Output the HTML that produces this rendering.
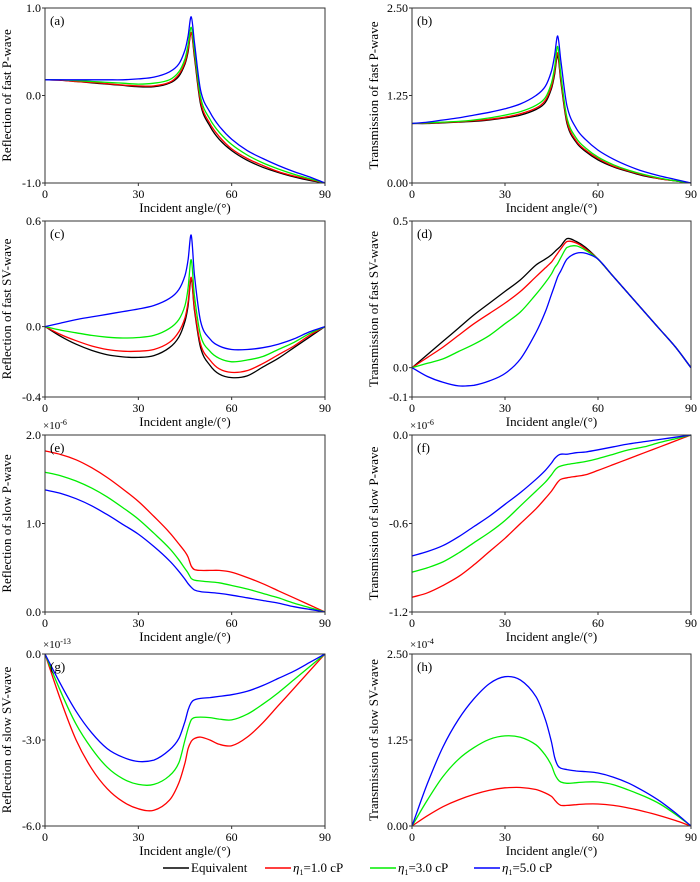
<!DOCTYPE html>
<html><head><meta charset="utf-8"><style>
body{margin:0;background:#fff;width:700px;height:882px;overflow:hidden}
svg{display:block;font-family:"Liberation Serif",serif}
</style></head><body>
<svg id="c" width="700" height="882"></svg>
<script>
const angles=[0,5,10,15,20,25,30,35,40,43,45,46,47,48,50,53,56,60,65,70,75,80,85,90];
const aBlack=[0.18,0.175,0.16,0.145,0.13,0.115,0.10,0.10,0.14,0.22,0.36,0.50,0.72,0.45,-0.10,-0.35,-0.50,-0.63,-0.74,-0.82,-0.88,-0.93,-0.97,-1.0];
const aRed=[0.18,0.175,0.16,0.15,0.135,0.12,0.11,0.11,0.15,0.24,0.38,0.53,0.72,0.48,-0.07,-0.32,-0.47,-0.61,-0.72,-0.80,-0.87,-0.92,-0.96,-1.0];
const aGreen=[0.18,0.178,0.17,0.16,0.15,0.14,0.13,0.14,0.18,0.27,0.42,0.58,0.78,0.53,-0.02,-0.27,-0.42,-0.56,-0.68,-0.77,-0.84,-0.90,-0.95,-1.0];
const aBlue=[0.18,0.18,0.18,0.18,0.18,0.18,0.19,0.21,0.27,0.36,0.52,0.68,0.90,0.62,0.06,-0.19,-0.35,-0.50,-0.63,-0.72,-0.80,-0.87,-0.93,-1.0];
const bBlack=[0.85,0.85,0.86,0.87,0.88,0.90,0.93,0.97,1.05,1.15,1.35,1.55,1.82,1.45,0.85,0.58,0.45,0.33,0.23,0.16,0.10,0.06,0.03,0];
const bRed=[0.85,0.855,0.865,0.875,0.89,0.91,0.94,0.99,1.07,1.18,1.38,1.59,1.86,1.48,0.88,0.60,0.47,0.35,0.24,0.17,0.11,0.06,0.03,0];
const bGreen=[0.85,0.86,0.87,0.88,0.90,0.93,0.97,1.02,1.11,1.22,1.43,1.65,1.95,1.55,0.93,0.64,0.50,0.37,0.26,0.18,0.12,0.07,0.03,0];
const bBlue=[0.85,0.87,0.90,0.93,0.97,1.01,1.06,1.13,1.25,1.38,1.60,1.82,2.10,1.75,1.10,0.78,0.62,0.47,0.34,0.24,0.16,0.10,0.05,0];
const cBlack=[0,-0.055,-0.10,-0.135,-0.16,-0.172,-0.175,-0.165,-0.12,-0.06,0.03,0.12,0.27,0.10,-0.12,-0.22,-0.27,-0.29,-0.28,-0.23,-0.18,-0.12,-0.06,0];
const cRed=[0,-0.045,-0.08,-0.11,-0.13,-0.14,-0.14,-0.13,-0.09,-0.03,0.05,0.14,0.28,0.11,-0.10,-0.19,-0.24,-0.26,-0.25,-0.21,-0.16,-0.11,-0.05,0];
const cGreen=[0,-0.02,-0.035,-0.05,-0.06,-0.065,-0.062,-0.05,-0.01,0.04,0.12,0.22,0.38,0.18,-0.05,-0.14,-0.18,-0.20,-0.19,-0.17,-0.13,-0.09,-0.04,0];
const cBlue=[0,0.02,0.04,0.055,0.07,0.085,0.10,0.12,0.16,0.21,0.29,0.38,0.52,0.30,0.03,-0.07,-0.11,-0.13,-0.13,-0.12,-0.10,-0.07,-0.03,0];
const dBlack=[0,0.045,0.09,0.135,0.18,0.22,0.26,0.30,0.35,0.37,0.385,0.395,0.405,0.415,0.44,0.43,0.41,0.37,0.31,0.25,0.19,0.13,0.07,0];
const dRed=[0,0.035,0.07,0.11,0.15,0.185,0.22,0.26,0.31,0.34,0.36,0.375,0.39,0.405,0.43,0.425,0.405,0.37,0.31,0.25,0.19,0.13,0.07,0];
const dGreen=[0,0.015,0.03,0.055,0.08,0.11,0.15,0.19,0.25,0.29,0.32,0.34,0.355,0.375,0.41,0.415,0.40,0.37,0.31,0.25,0.19,0.13,0.07,0];
const dBlue=[0,-0.03,-0.05,-0.062,-0.06,-0.045,-0.02,0.03,0.12,0.19,0.25,0.28,0.31,0.33,0.37,0.39,0.39,0.37,0.31,0.25,0.19,0.13,0.07,0];
const eRed=[1.82,1.78,1.72,1.63,1.52,1.39,1.25,1.08,0.90,0.77,0.68,0.62,0.52,0.48,0.47,0.47,0.47,0.45,0.39,0.32,0.24,0.16,0.08,0];
const eGreen=[1.58,1.54,1.48,1.40,1.30,1.18,1.05,0.89,0.72,0.59,0.49,0.44,0.38,0.36,0.35,0.34,0.33,0.30,0.26,0.21,0.16,0.10,0.05,0];
const eBlue=[1.38,1.34,1.28,1.20,1.10,0.99,0.88,0.74,0.58,0.46,0.37,0.32,0.28,0.25,0.23,0.22,0.21,0.19,0.16,0.13,0.10,0.06,0.03,0];
const fRed=[-1.10,-1.07,-1.02,-0.96,-0.88,-0.79,-0.70,-0.60,-0.50,-0.43,-0.38,-0.35,-0.32,-0.30,-0.29,-0.28,-0.27,-0.24,-0.20,-0.16,-0.12,-0.08,-0.04,0];
const fGreen=[-0.93,-0.90,-0.86,-0.80,-0.73,-0.66,-0.58,-0.48,-0.38,-0.32,-0.27,-0.24,-0.22,-0.21,-0.20,-0.19,-0.18,-0.16,-0.13,-0.10,-0.08,-0.05,-0.025,0];
const fBlue=[-0.82,-0.79,-0.75,-0.69,-0.62,-0.55,-0.47,-0.39,-0.30,-0.24,-0.19,-0.16,-0.14,-0.13,-0.13,-0.12,-0.115,-0.10,-0.08,-0.06,-0.045,-0.03,-0.015,0];
const gRed=[0,-1.6,-3.0,-4.0,-4.7,-5.15,-5.4,-5.45,-5.1,-4.5,-3.8,-3.3,-3.05,-2.95,-2.9,-3.0,-3.15,-3.2,-2.9,-2.4,-1.8,-1.2,-0.6,0];
const gGreen=[0,-1.3,-2.45,-3.3,-3.95,-4.35,-4.55,-4.55,-4.25,-3.8,-3.0,-2.6,-2.3,-2.22,-2.2,-2.22,-2.27,-2.3,-2.1,-1.75,-1.35,-0.9,-0.45,0];
const gBlue=[0,-1.05,-2.0,-2.75,-3.3,-3.6,-3.75,-3.7,-3.35,-2.95,-2.35,-1.95,-1.7,-1.6,-1.55,-1.52,-1.48,-1.42,-1.3,-1.1,-0.85,-0.6,-0.3,0];
const hRed=[0,0.15,0.28,0.38,0.46,0.52,0.555,0.56,0.53,0.48,0.43,0.38,0.33,0.30,0.30,0.31,0.32,0.32,0.30,0.26,0.21,0.15,0.08,0];
const hGreen=[0,0.38,0.72,0.97,1.14,1.26,1.31,1.29,1.18,1.03,0.88,0.76,0.68,0.64,0.62,0.63,0.64,0.64,0.60,0.52,0.43,0.32,0.17,0];
const hBlue=[0,0.62,1.15,1.55,1.85,2.07,2.17,2.12,1.88,1.55,1.22,1.00,0.88,0.84,0.82,0.80,0.79,0.77,0.71,0.62,0.50,0.36,0.19,0];
const xTicks=[0,30,60,90];
const seriesNames=["Equivalent","η1=1.0 cP","η1=3.0 cP","η1=5.0 cP"];
const colors=["#000","#f00","#0e0","#00f"];

const NS="http://www.w3.org/2000/svg";
const svg=document.getElementById('c');
function mk(t,a,p){const e=document.createElementNS(NS,t);for(const k in a)e.setAttribute(k,a[k]);(p||svg).appendChild(e);return e;}
function smooth(pts){
  const n=pts.length;let d="M"+pts[0][0].toFixed(1)+","+pts[0][1].toFixed(1);
  const tan=i=>{const a=pts[Math.max(0,i-1)],b=pts[Math.min(n-1,i+1)];const s=(b[1]-a[1])/(b[0]-a[0]);return s;};
  for(let i=0;i<n-1;i++){
    const p0=pts[i],p1=pts[i+1],h=(p1[0]-p0[0])/3;
    let t0=tan(i),t1=tan(i+1);const m=(p1[1]-p0[1])/(p1[0]-p0[0]);
    if(Math.abs(t0)>3*Math.abs(m)+1e-9&&Math.sign(t0)===Math.sign(m))t0=3*m;
    if(Math.abs(t1)>3*Math.abs(m)+1e-9&&Math.sign(t1)===Math.sign(m))t1=3*m;
    d+="C"+(p0[0]+h).toFixed(1)+","+(p0[1]+h*t0).toFixed(1)+" "+(p1[0]-h).toFixed(1)+","+(p1[1]-h*t1).toFixed(1)+" "+p1[0].toFixed(1)+","+p1[1].toFixed(1);}
  return d;}

const L=[45,412],W=[280,279];
const rows=[[8,183],[221,397],[435,612],[654,826]];
const panels=[
 {id:"a",c:0,r:0,ymin:-1,ymax:1,yt:[-1,0,1],fmt:v=>v.toFixed(1),title:"Reflection of fast P-wave",s:[aBlack,aRed,aGreen,aBlue],ci:[0,1,2,3]},
 {id:"b",c:1,r:0,ymin:0,ymax:2.5,yt:[0,1.25,2.5],fmt:v=>v.toFixed(2),title:"Transmission of fast P-wave",s:[bBlack,bRed,bGreen,bBlue],ci:[0,1,2,3]},
 {id:"c",c:0,r:1,ymin:-0.4,ymax:0.6,yt:[-0.4,0,0.6],fmt:v=>v.toFixed(1),title:"Reflection of fast SV-wave",s:[cBlack,cRed,cGreen,cBlue],ci:[0,1,2,3]},
 {id:"d",c:1,r:1,ymin:-0.1,ymax:0.5,yt:[-0.1,0,0.5],fmt:v=>v.toFixed(1),title:"Transmission of fast SV-wave",s:[dBlack,dRed,dGreen,dBlue],ci:[0,1,2,3]},
 {id:"e",c:0,r:2,ymin:0,ymax:2,yt:[0,1,2],fmt:v=>v.toFixed(1),title:"Reflection of slow P-wave",s:[eRed,eGreen,eBlue],ci:[1,2,3],exp:"-6"},
 {id:"f",c:1,r:2,ymin:-1.2,ymax:0,yt:[-1.2,-0.6,0],fmt:v=>v.toFixed(1),title:"Transmission of slow P-wave",s:[fRed,fGreen,fBlue],ci:[1,2,3],exp:"-6"},
 {id:"g",c:0,r:3,ymin:-6,ymax:0,yt:[-6,-3,0],fmt:v=>v.toFixed(1),title:"Reflection of slow SV-wave",s:[gRed,gGreen,gBlue],ci:[1,2,3],exp:"-13"},
 {id:"h",c:1,r:3,ymin:0,ymax:2.5,yt:[0,1.25,2.5],fmt:v=>v.toFixed(2),title:"Transmission of slow SV-wave",s:[hRed,hGreen,hBlue],ci:[1,2,3],exp:"-4"}
];
panels.forEach(p=>{
  const x0=L[p.c],w=W[p.c],y0=rows[p.r][0],y1=rows[p.r][1];
  const X=v=>x0+v/90*w, Y=v=>y1-(v-p.ymin)/(p.ymax-p.ymin)*(y1-y0);
  const g=mk('g',{});
  
  
  p.s.forEach((arr,k)=>{
    const pts=angles.map((a,i)=>[X(a),Y(arr[i])]);
    const path=mk('path',{d:smooth(pts),fill:'none',stroke:colors[p.ci[k]],'stroke-width':1.3},g);
    
    
  });
  const fr=mk('rect',{x:x0,y:y0,width:w,height:y1-y0,fill:'none',stroke:'#333','stroke-width':1},g);
  
  
  xTicks.forEach(t=>{
    mk('line',{x1:X(t),x2:X(t),y1:y1,y2:y1+3,stroke:'#333'},g);
    const tx=mk('text',{x:X(t),y:y1+15,'text-anchor':'middle','font-size':12},g);tx.textContent=t;
    
    
  });
  p.yt.forEach(t=>{
    mk('line',{x1:x0-3,x2:x0,y1:Y(t),y2:Y(t),stroke:'#333'},g);
    const tx=mk('text',{x:x0-4,y:Y(t)+4,'text-anchor':'end','font-size':12},g);tx.textContent=p.fmt(t);
    
    
  });
  const xt=mk('text',{x:x0+w/2,y:y1+29,'text-anchor':'middle','font-size':13},g);xt.textContent="Incident angle/(°)";
  
  
  const cy=(y0+y1)/2,cx=x0-34;
  const yt=mk('text',{x:cx,y:cy,'text-anchor':'middle','font-size':13,transform:`rotate(-90 ${cx} ${cy})`},g);yt.textContent=p.title;
  
  
  const lb=mk('text',{x:x0+5,y:y0+17,'font-size':13},g);lb.textContent="("+p.id+")";
  
  
  if(p.exp){
    const ex=mk('text',{x:x0-2,y:y0-6,'font-size':11},g);ex.textContent="×10";
    const sp=mk('tspan',{dy:-4,'font-size':8},ex);sp.textContent=p.exp;
    
    
  }
});
const lg=mk('g',{});


const lx=[163,265,370,474];
seriesNames.forEach((n,i)=>{
  mk('line',{x1:lx[i],x2:lx[i]+26,y1:868,y2:868,stroke:colors[i],'stroke-width':1.5},lg);
  const t=mk('text',{x:lx[i]+28,y:872,'font-size':13},lg);
  
  
  if(i===0)t.textContent=n;else{
    const a=mk('tspan',{'font-style':'italic'},t);a.textContent="η";
    const b=mk('tspan',{dy:3,'font-size':8},t);b.textContent="1";
    const c=mk('tspan',{dy:-3},t);c.textContent=n.slice(2);
  }
});
</script>
</body></html>
